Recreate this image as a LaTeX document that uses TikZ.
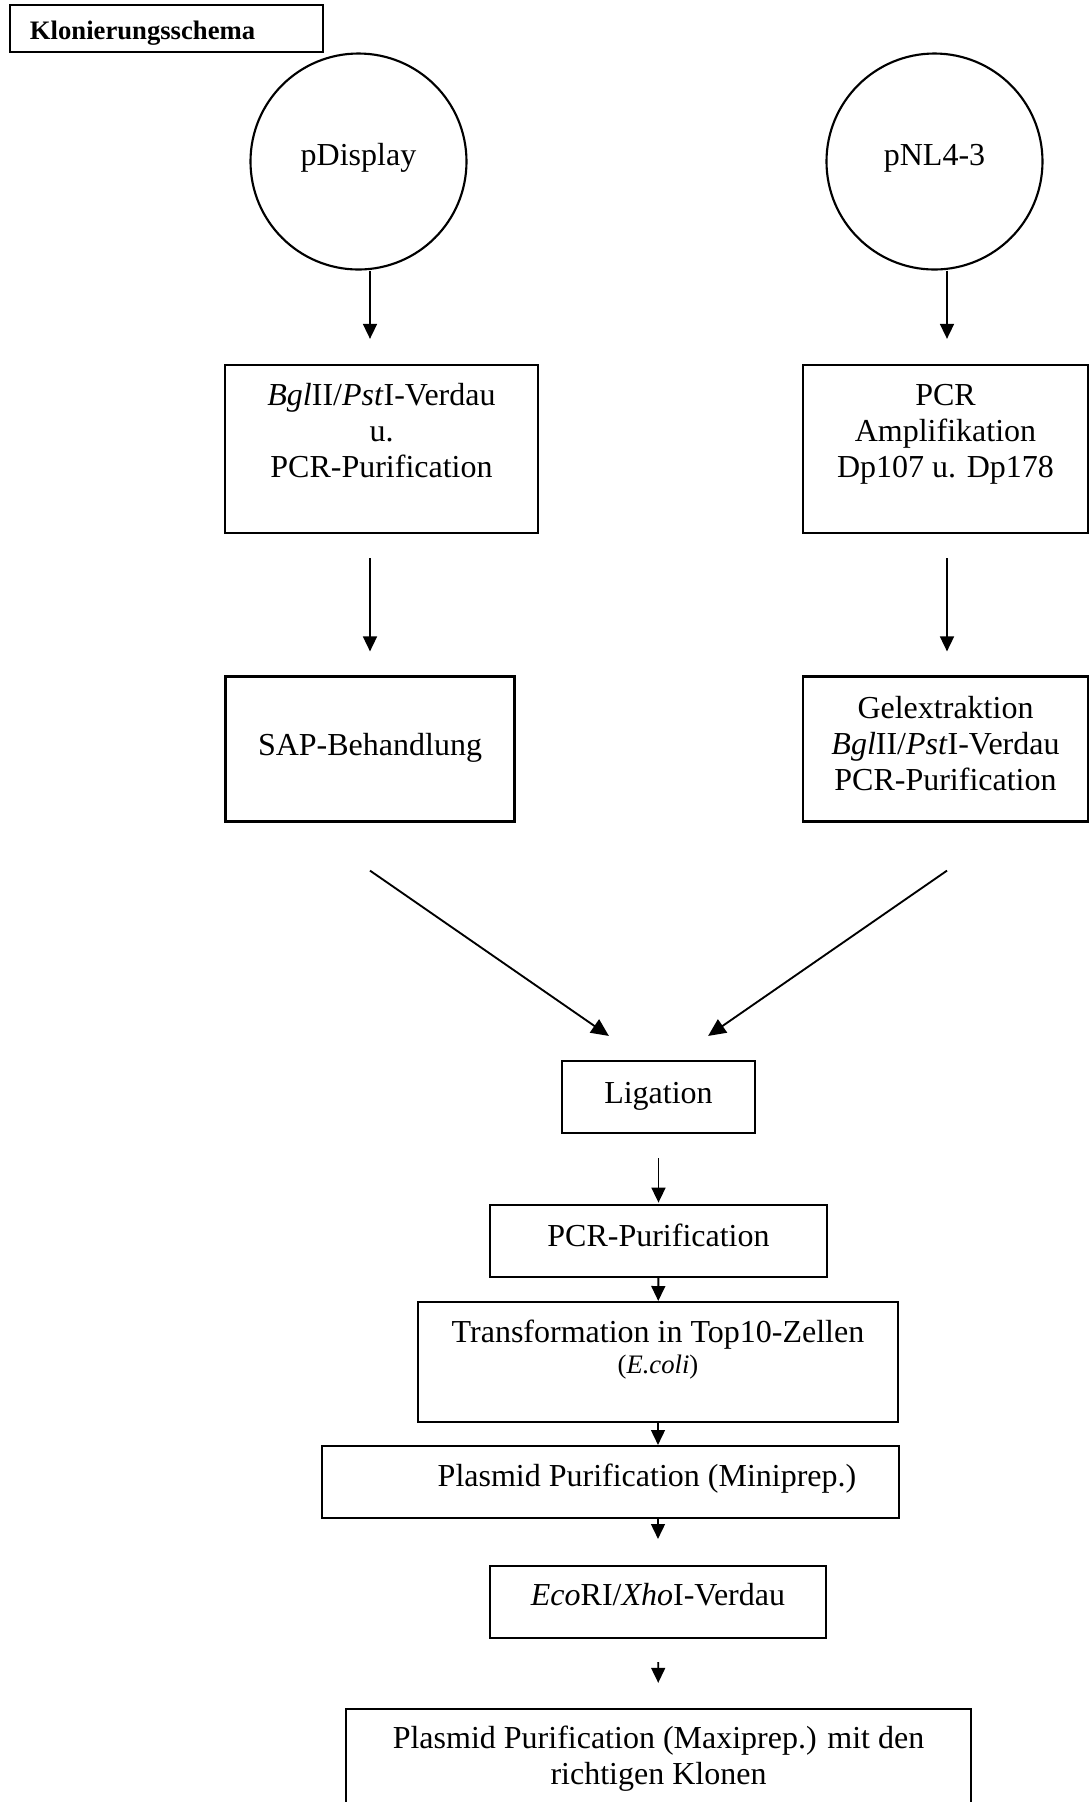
\documentclass[tikz,border=0pt]{standalone}
\usepackage{fontspec}
\setmainfont{Liberation Serif}
\usetikzlibrary{positioning, arrows.meta, calc, shapes}

\begin{document}
\begin{tikzpicture}[x=0.375pt, y=-0.375pt,
	font=\fontsize{12pt}{13.5pt}\selectfont,
	block/.style={draw, rectangle, line width=0.8pt, inner sep=0pt, align=center, text height=8.25pt},
	plasmid/.style={draw, circle, line width=0.8pt, inner sep=0pt, minimum size=81pt, text height=8.25pt, text depth=4.9pt},
	link/.style={-{Triangle[length=5.6pt, width=5.2pt]}, line width=0.7pt},
	biglink/.style={-{Triangle[length=6.6pt, width=6pt]}, line width=0.7pt}]
			
			\useasboundingbox (0,0) rectangle (1090,1802);
			
			%Title
			\node (Title) at (166.5,28.5) [draw, rectangle, line width=0.8pt, minimum width=117.4pt, 
			minimum height=17.6pt, inner xsep=7.5pt, inner ysep=0pt, text width=102.4pt, align=left, 
			text height=9pt, text depth=1.1pt, font=\fontsize{10pt}{12pt}\selectfont\bfseries]{Klonierungsschema};
			
			%Plasmids
			\node (PDisplay) at (358.5,161.5) [plasmid]{pDisplay};
			\node (PNL) at (934.5,161.5) [plasmid]{pNL4-3};
			\coordinate (ColL) at (370,0);
			\coordinate (ColR) at (947,0);
			
			%Blocks
			\node (Verdau) at (381.5,449) [block, minimum width=117.4pt, minimum height=63pt, 
			text height=37.5pt, text depth=16.5pt]{\textit{Bgl}II/\textit{Pst}I-Verdau\\u.\\PCR-Purification};
			\node (PcrAmp) at (945.5,449) [block, minimum width=106.9pt, minimum height=63pt, 
			text height=37.5pt, text depth=16.5pt]{PCR\\Amplifikation\\Dp107 u. Dp178};
			\node (SAP) at (370,749) [block, minimum width=108.4pt, minimum height=54.4pt, 
			text depth=3.75pt]{SAP-Behandlung};
			\node (Gel) at (945.5,749) [block, minimum width=106.9pt, minimum height=54.4pt, 
			text height=37.5pt, text depth=6.75pt]{Gelextraktion\\\textit{Bgl}II/\textit{Pst}I-Verdau\\PCR-Purification};
			\node (Ligation) at (658.5,1097) [block, minimum width=72.4pt, minimum height=27pt, 
			text depth=3.75pt]{Ligation};
			\node (PcrPur) at (658.5,1241) [block, minimum width=126.4pt, minimum height=27pt, 
			text depth=4.5pt]{PCR-Purification};
			\node (Transf) at (658,1362) [block, minimum width=180pt, minimum height=45pt, 
			text height=22.5pt, text depth=14.25pt]{Transformation in Top10-Zellen\\[-1.9pt]{\fontsize{10pt}{11.5pt}\selectfont(\textit{E.coli})}};
			\node (Mini) at (610.5,1482) [block, minimum width=216.4pt, minimum height=27pt, 
			text depth=5.25pt]{\hspace*{27.4pt}Plasmid Purification (Miniprep.)};
			\node (Eco) at (658,1602) [block, minimum width=126pt, minimum height=27pt, 
			text depth=6pt]{\textit{Eco}RI/\textit{Xho}I-Verdau};
			\node (Maxi) at (658.5,1769.5) [block, minimum width=234.4pt, minimum height=45.4pt, 
			text height=22.5pt, text depth=10.9pt]{Plasmid Purification (Maxiprep.) mit den\\richtigen Klonen};
			
			%Links
			\draw[link, shorten >=9.4pt] (PDisplay.south -| ColL) -- (Verdau.north -| ColL);
			\draw[link, shorten >=9.4pt] (PNL.south -| ColR) -- (PcrAmp.north -| ColR);
			\draw[link, shorten <=9pt, shorten >=9pt] (Verdau.south -| ColL) -- (SAP.north -| ColL);
			\draw[link, shorten <=9pt, shorten >=9pt] (PcrAmp.south -| ColR) -- (Gel.north -| ColR);
			\draw[biglink] ($(SAP.south -| ColL)+(0,48)$) -- ($(Ligation.north west)+(48,-24)$);
			\draw[biglink] ($(Gel.south -| ColR)+(0,48)$) -- ($(Ligation.north east)+(-48,-24)$);
			\draw[link, shorten <=9pt, shorten >=0.5pt] (Ligation) -- (PcrPur);
			\draw[link] (PcrPur) -- (Transf);
			\draw[link] (Transf.south) -- (Transf.south |- Mini.north);
			\draw[link, shorten >=9.75pt] (Eco.north |- Mini.south) -- (Eco.north);
			\draw[link, shorten <=8.6pt, shorten >=9.4pt] (Eco) -- (Maxi);
			
\end{tikzpicture}
\end{document}
